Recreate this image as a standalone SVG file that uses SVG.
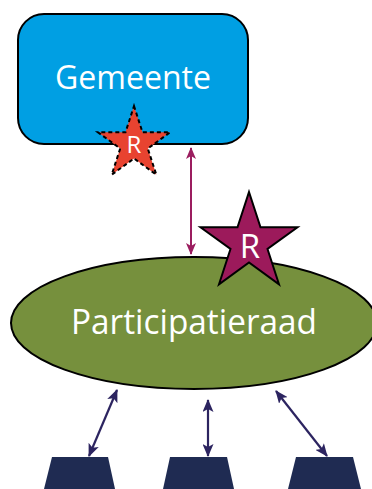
<svg xmlns="http://www.w3.org/2000/svg" width="372" height="489" viewBox="0 0 372 489">
  <style>
    .lbl { font-family: "Open Sans", "Liberation Sans", sans-serif; fill: #ffffff; text-anchor: middle; }
    .mag { stroke: #9B1D5F; stroke-width: 2; fill: none; }
    .nav { stroke: #2C2460; stroke-width: 2.2; fill: none; }
    .base { fill: #1F2B52; }
  </style>
  <defs>
    <marker id="amag" viewBox="0 0 12 10" refX="11" refY="5" markerWidth="12" markerHeight="10" markerUnits="userSpaceOnUse" orient="auto-start-reverse">
      <path d="M0,0 L12,5 L0,10 L3,5 z" fill="#9B1D5F"/>
    </marker>
    <marker id="anav" viewBox="0 0 13 11" refX="12" refY="5.5" markerWidth="13" markerHeight="11" markerUnits="userSpaceOnUse" orient="auto-start-reverse">
      <path d="M0,0 L13,5.5 L0,11 L3,5.5 z" fill="#2C2460"/>
    </marker>
  </defs>

  <g id="gemeente">
    <rect x="18" y="14" width="230" height="130" rx="26" ry="26" fill="#009FE3" stroke="#000" stroke-width="2"/>
    <text class="lbl" x="133" y="89" font-size="32" textLength="156" lengthAdjust="spacingAndGlyphs">Gemeente</text>
  </g>

  <g id="connectors">
    <line class="mag" x1="191" y1="148" x2="191" y2="254" marker-start="url(#amag)" marker-end="url(#amag)"/>
    <line class="nav" x1="117" y1="390" x2="89" y2="456" marker-start="url(#anav)" marker-end="url(#anav)"/>
    <line class="nav" x1="208" y1="400" x2="208" y2="456" marker-start="url(#anav)" marker-end="url(#anav)"/>
    <line class="nav" x1="276" y1="391" x2="327" y2="456" marker-start="url(#anav)" marker-end="url(#anav)"/>
  </g>

  <g id="star-red">
    <polygon points="134,106 142.5,132.3 170.1,132.3 147.8,148.5 156.3,174.7 134,158.5 111.7,174.7 120.2,148.5 97.9,132.3 125.5,132.3" fill="#E84330" stroke="#000" stroke-width="2" stroke-dasharray="4 3"/>
    <text class="lbl" x="134" y="153" font-size="24">R</text>
  </g>

  <g id="participatieraad">
    <ellipse cx="194" cy="323" rx="183" ry="66" fill="#76903D" stroke="#000" stroke-width="2"/>
    <text class="lbl" x="194" y="334" font-size="35" textLength="246" lengthAdjust="spacingAndGlyphs">Participatieraad</text>
  </g>

  <g id="star-purple">
    <polygon points="249,192 260.5,227.2 297.5,227.2 267.5,249 279,284.3 249,262.5 219,284.3 230.5,249 200.5,227.2 237.5,227.2" fill="#9C1A5B" stroke="#000" stroke-width="2"/>
    <text class="lbl" x="250" y="258" font-size="33">R</text>
  </g>

  <g id="base-left">
    <polygon class="base" points="52,457 108,457 115,489 44,489"/>
  </g>
  <g id="base-middle">
    <polygon class="base" points="170,457 227,457 234,489 163,489"/>
  </g>
  <g id="base-right">
    <polygon class="base" points="296,457 353,457 361,489 288,489"/>
  </g>
</svg>
